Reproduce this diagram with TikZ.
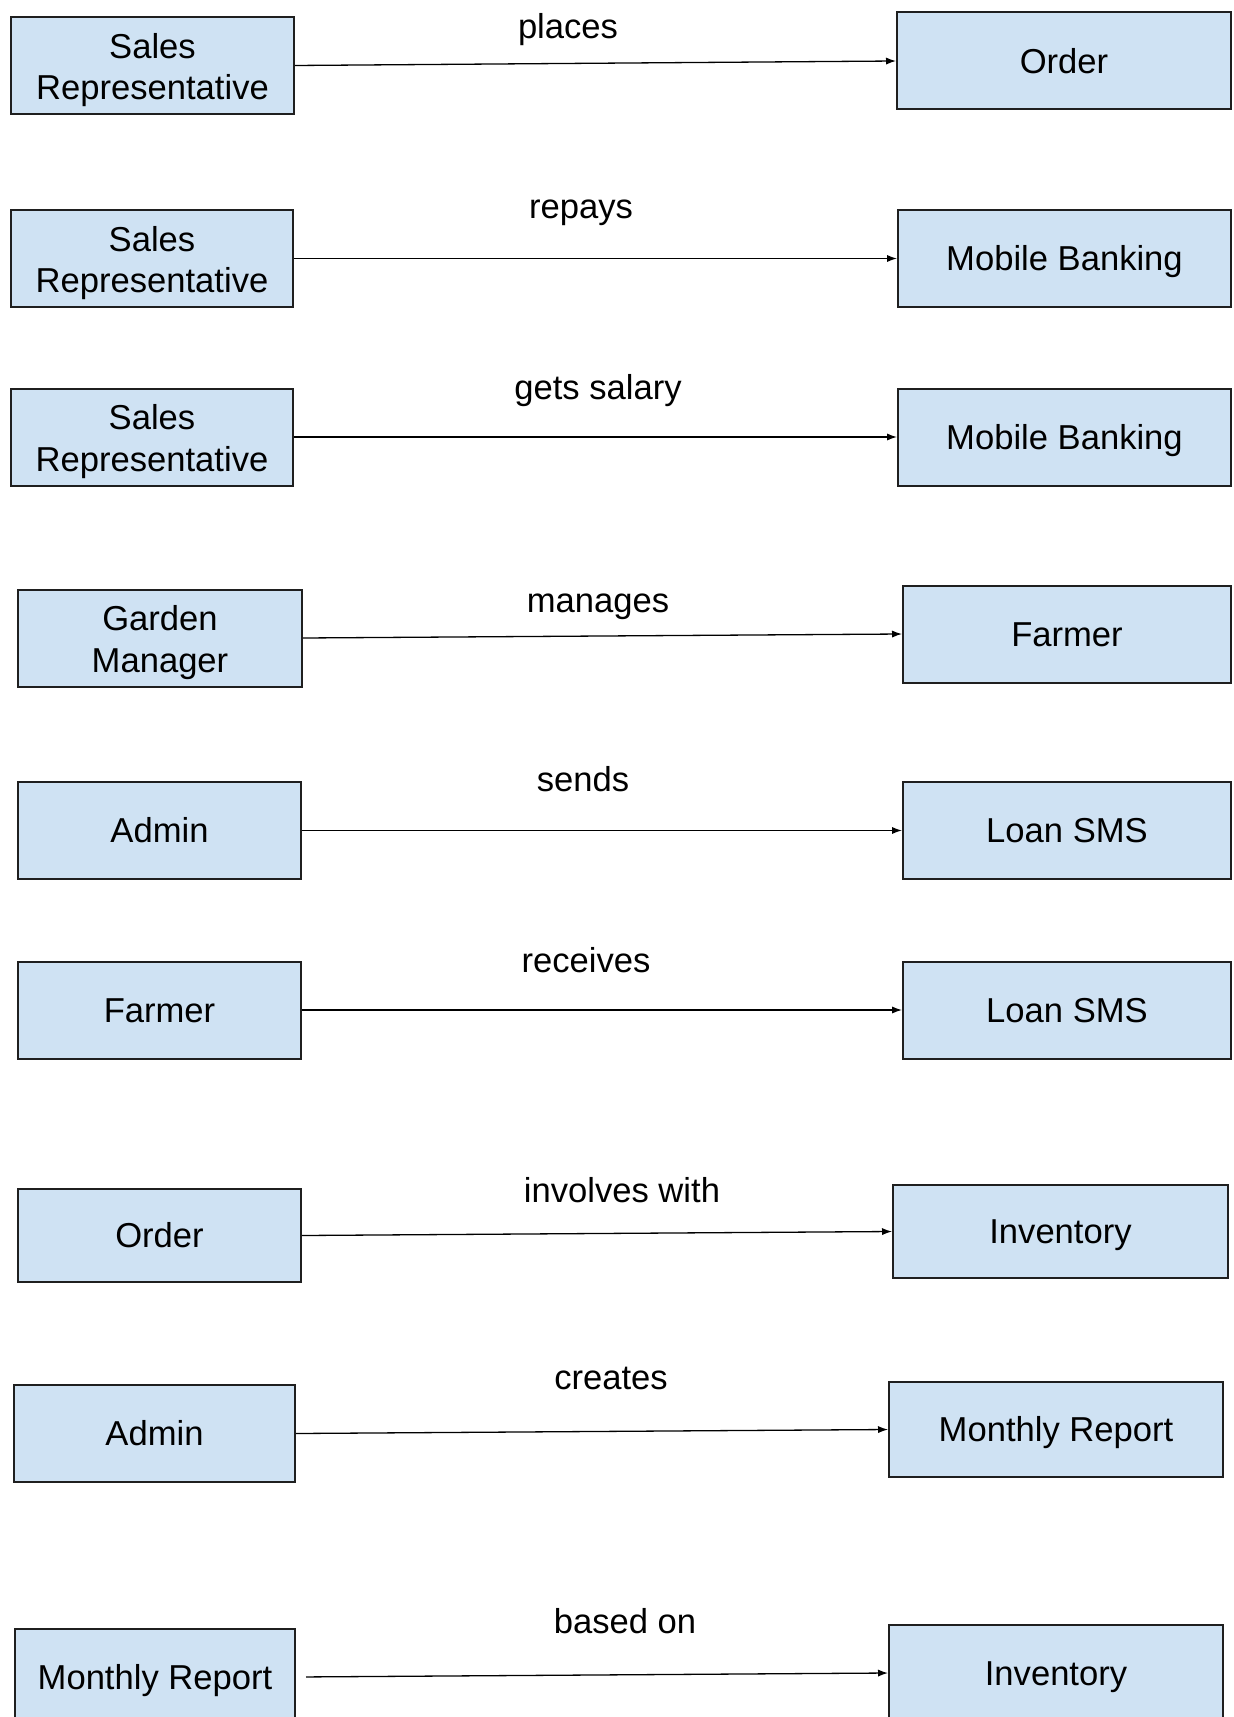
\documentclass[tikz,border=0pt]{standalone}
\usepackage{fontspec}
\setmainfont{Liberation Sans}
\usetikzlibrary{arrows.meta}
\definecolor{boxfill}{HTML}{CFE2F3}
\definecolor{boxline}{HTML}{1F1F1F}

\begin{document}
\begin{tikzpicture}[x=0.5pt,y=-0.5pt,
  entity/.style={draw=boxline, line width=1pt, fill=boxfill, rectangle,
    inner sep=0pt, align=center, minimum height=48.5pt,
    text height=12.4pt, text depth=0pt,
    font=\fontsize{17.3}{20.8}\selectfont},
  twoline/.style={align=center, inner sep=0pt, yshift=-2.2pt,
    font=\fontsize{17.3}{20.8}\selectfont},
  rel/.style={anchor=base, inner sep=0pt, font=\fontsize{17.3}{20.8}\selectfont},
  link/.style={draw=black, line width=0.65pt,
    -{Latex[length=5pt,width=3.6pt]}}
]
\clip (0,0) rectangle (1233,1717);

% row 1
\node[entity, minimum width=141.5pt,
  label={[twoline]center:Sales\\Representative}] (sr1) at (152.5,65.5) {};
\node[entity, minimum width=167pt] (ord1) at (1064,61) {Order};
\node[rel] (l1) at (568,39) {places};
\draw[link] (sr1.east) -- (ord1.west);

% row 2
\node[entity, minimum width=141pt,
  label={[twoline]center:Sales\\Representative}] (sr2) at (152,258.5) {};
\node[entity, minimum width=166.5pt] (mb2) at (1064.5,258.5) {Mobile Banking};
\node[rel] (l2) at (581,219) {repays};
\draw[link] (sr2.east) -- (mb2.west);

% row 3
\node[entity, minimum width=141pt,
  label={[twoline]center:Sales\\Representative}] (sr3) at (152,437) {};
\node[entity, minimum width=166.5pt] (mb3) at (1064.5,437) {Mobile Banking};
\node[rel] (l3) at (598,400) {gets salary};
\draw[link] (sr3.east) -- (mb3.west);

% row 4
\node[entity, minimum width=142pt,
  label={[twoline]center:Garden\\Manager}] (gm4) at (160,638) {};
\node[entity, minimum width=164pt] (fa4) at (1067,634) {Farmer};
\node[rel] (l4) at (598,612) {manages};
\draw[link] (gm4.east) -- (fa4.west);

% row 5
\node[entity, minimum width=141.5pt] (ad5) at (159.5,830.5) {Admin};
\node[entity, minimum width=164pt] (ls5) at (1067,830.5) {Loan SMS};
\node[rel] (l5) at (583,791) {sends};
\draw[link] (ad5.east) -- (ls5.west);

% row 6
\node[entity, minimum width=141.5pt] (fa6) at (159.5,1010) {Farmer};
\node[entity, minimum width=164pt] (ls6) at (1067,1010) {Loan SMS};
\node[rel] (l6) at (586,972) {receives};
\draw[link] (fa6.east) -- (ls6.west);

% row 7
\node[entity, minimum width=141.5pt, minimum height=46.5pt] (or7) at (159.5,1235.5) {Order};
\node[entity, minimum width=167.5pt, minimum height=46.5pt] (in7) at (1060.5,1231.5) {Inventory};
\node[rel] (l7) at (622,1202) {involves with};
\draw[link] (or7.east) -- (in7.west);

% row 8
\node[entity, minimum width=140.5pt] (ad8) at (154.5,1433.5) {Admin};
\node[entity, minimum width=167pt, minimum height=47.5pt] (mr8) at (1056,1429.5) {Monthly Report};
\node[rel] (l8) at (611,1389) {creates};
\draw[link] (ad8.east) -- (mr8.west);

% row 9
\node[entity, minimum width=140pt] (mr9) at (155,1677) {Monthly Report};
\node[entity, minimum width=167pt] (in9) at (1056,1673) {Inventory};
\node[rel] (l9) at (625,1633) {based on};
\draw[link, shorten <=5pt] (mr9.east) -- (in9.west);
\end{tikzpicture}
\end{document}
